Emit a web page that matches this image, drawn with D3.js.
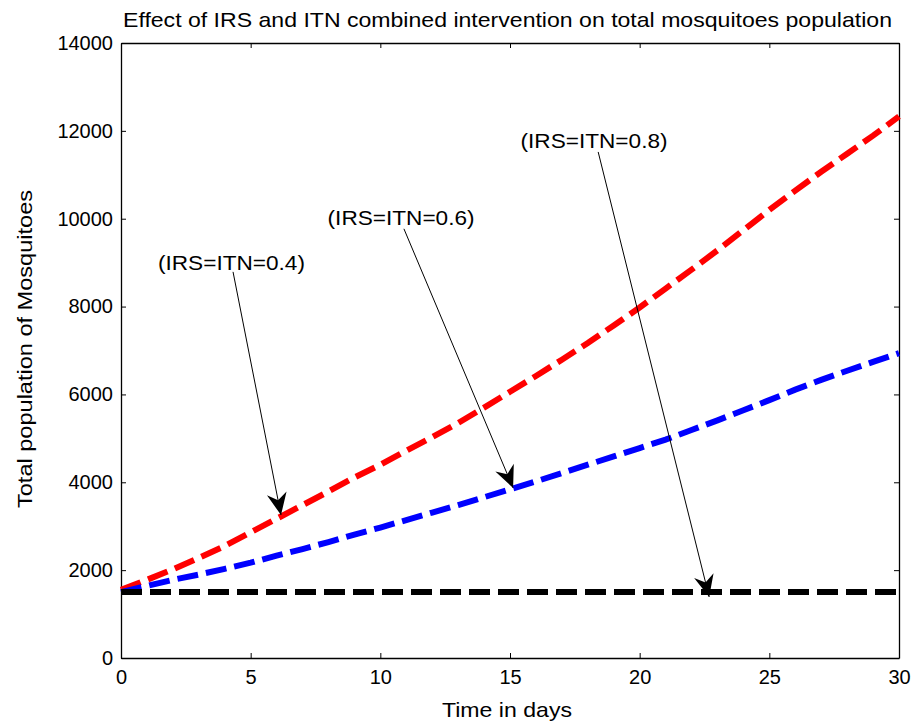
<!DOCTYPE html>
<html>
<head>
<meta charset="utf-8">
<script src="https://cdn.jsdelivr.net/npm/d3@7"></script>
<style>
  body { margin: 0; background: #fff; }
  text { font-family: "Liberation Sans", Arial, sans-serif; fill: #000; }
</style>
</head>
<body>
<svg width="914" height="724"></svg>
<script>
// время в днях
const days = d3.range(0, 31);
// общая популяция комаров
const irs04 = [1550, 1780, 2020, 2280, 2550, 2860, 3170, 3480, 3790, 4110, 4400,
               4720, 5030, 5350, 5700, 6060, 6420, 6790, 7170, 7570, 7980,
               8410, 8840, 9280, 9740, 10200, 10640, 11070, 11480, 11890, 12330];
const irs06 = [1500, 1640, 1780, 1900, 2030, 2170, 2330, 2480, 2640, 2810, 2970,
               3140, 3310, 3480, 3660, 3840, 4020, 4210, 4400, 4590, 4780,
               4970, 5190, 5410, 5640, 5870, 6110, 6330, 6540, 6740, 6940];
const irs08 = days.map(() => 1500);

const xTicks = [0, 5, 10, 15, 20, 25, 30];
const yTicks = [0, 2000, 4000, 6000, 8000, 10000, 12000, 14000];

// подписи со стрелками: текст, начало стрелки и точка, куда она указывает
const notes = [
    {label: "(IRS=ITN=0.4)", tx: 4.26, ty: 8830, ax: 4.32, ay: 8790, bx: 6.17, by: 3255},
    {label: "(IRS=ITN=0.6)", tx: 10.80, ty: 9860, ax: 10.91, ay: 9770, bx: 15.12, by: 3870},
    {label: "(IRS=ITN=0.8)", tx: 18.24, ty: 11610, ax: 18.4, ay: 11520, bx: 22.68, by: 1390}
];

const svg = d3.select("svg");
const margin = {left: 121, right: 15, top: 43, bottom: 66};
const width = +svg.attr("width");
const height = +svg.attr("height");

const x = d3.scaleLinear().domain([0, 30]).range([margin.left, width - margin.right]);
const y = d3.scaleLinear().domain([0, 14000]).range([height - margin.bottom, margin.top]);

// оси: засечки внутрь, как в MATLAB
const fmt = d3.format("d");
const gx = svg.append("g")
    .attr("transform", `translate(0,${y(0)})`)
    .call(d3.axisBottom(x).tickValues(xTicks).tickFormat(fmt).tickSizeInner(-5).tickSizeOuter(0).tickPadding(12));
const gxt = svg.append("g")
    .attr("transform", `translate(0,${y(14000)})`)
    .call(d3.axisTop(x).tickValues(xTicks).tickFormat("").tickSizeInner(-5).tickSizeOuter(0));
const gy = svg.append("g")
    .attr("transform", `translate(${x(0)},0)`)
    .call(d3.axisLeft(y).tickValues(yTicks).tickFormat(fmt).tickSizeInner(-5).tickSizeOuter(0).tickPadding(8));
const gyr = svg.append("g")
    .attr("transform", `translate(${x(30)},0)`)
    .call(d3.axisRight(y).tickValues(yTicks).tickFormat("").tickSizeInner(-5).tickSizeOuter(0));

[gx, gxt, gy, gyr].forEach(g => {
    g.selectAll("path.domain").attr("stroke", "#000").attr("stroke-width", 1.3);
    g.selectAll(".tick line").attr("stroke", "#000");
    g.selectAll("text").attr("font-size", 20).attr("font-family", "Liberation Sans, Arial, sans-serif");
});

// кривые
const line = d3.line()
    .x((d, i) => x(days[i]))
    .y(d => y(d));

const series = [
    {values: irs04, color: "#ff0000"},
    {values: irs06, color: "#0000ff"},
    {values: irs08, color: "#000000"}
];
series.forEach(s => {
    svg.append("path")
        .attr("d", line(s.values))
        .attr("fill", "none")
        .attr("stroke", s.color)
        .attr("stroke-width", 6)
        .attr("stroke-dasharray", "21,8");
});

// стрелки
notes.forEach(n => {
    const x1 = x(n.ax), y1 = y(n.ay), x2 = x(n.bx), y2 = y(n.by);
    const ang = Math.atan2(y2 - y1, x2 - x1);
    svg.append("line")
        .attr("x1", x1).attr("y1", y1).attr("x2", x2).attr("y2", y2)
        .attr("stroke", "#000").attr("stroke-width", 1);
    // наконечник вида vback2
    const L = 22, W = 10, notch = 15;
    const head = [[0, 0], [-L, -W], [-notch, 0], [-L, W]];
    svg.append("path")
        .attr("d", d3.line()(head) + "Z")
        .attr("fill", "#000")
        .attr("transform", `translate(${x2},${y2}) rotate(${ang * 180 / Math.PI})`);
    svg.append("text")
        .attr("x", x(n.tx)).attr("y", y(n.ty))
        .attr("text-anchor", "middle")
        .attr("font-size", 21)
        .attr("textLength", 147)
        .attr("lengthAdjust", "spacingAndGlyphs")
        .text(n.label);
});

// заголовок и подписи осей
svg.append("text")
    .attr("x", 507.5).attr("y", 27)
    .attr("text-anchor", "middle")
    .attr("font-size", 21)
    .attr("textLength", 769)
    .attr("lengthAdjust", "spacingAndGlyphs")
    .text("Effect of IRS and ITN combined intervention on total mosquitoes population");
svg.append("text")
    .attr("x", 507).attr("y", 717)
    .attr("text-anchor", "middle")
    .attr("font-size", 21)
    .attr("textLength", 130)
    .attr("lengthAdjust", "spacingAndGlyphs")
    .text("Time in days");
svg.append("text")
    .attr("transform", `translate(32,349) rotate(-90)`)
    .attr("text-anchor", "middle")
    .attr("font-size", 21)
    .attr("textLength", 318)
    .attr("lengthAdjust", "spacingAndGlyphs")
    .text("Total population of Mosquitoes");
</script>
</body>
</html>
